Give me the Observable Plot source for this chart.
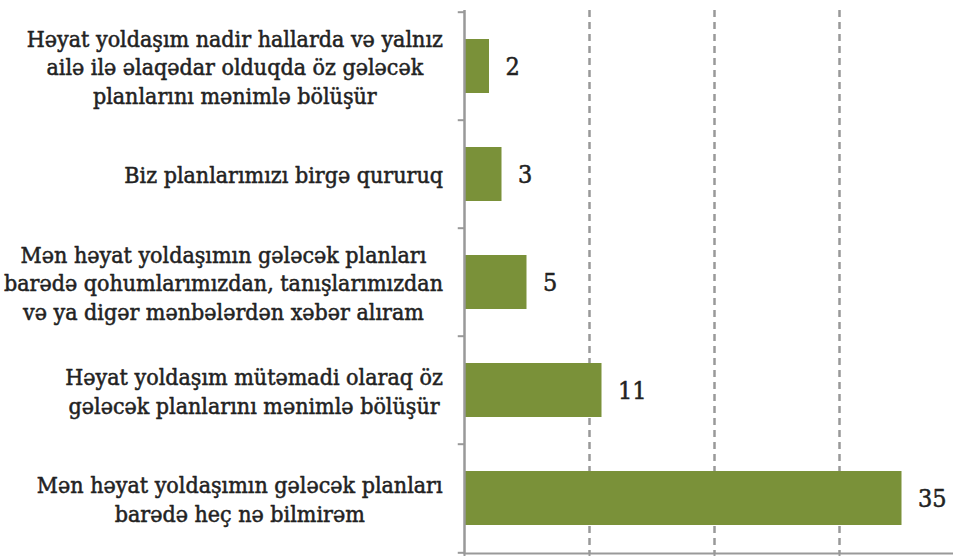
<!DOCTYPE html>
<html>
<head>
<meta charset="utf-8">
<script src="https://cdn.jsdelivr.net/npm/d3@7"></script>
<script src="https://cdn.jsdelivr.net/npm/@observablehq/plot@0.6"></script>
<style>
  html, body { margin: 0; padding: 0; background: #fff; }
  #chart svg { display: block; }
</style>
</head>
<body>
<div id="chart"></div>
<script>
const categories = [
  "Həyat yoldaşım nadir hallarda və yalnız\nailə ilə əlaqədar olduqda öz gələcək\nplanlarını mənimlə bölüşür",
  "Biz planlarımızı birgə qururuq",
  "Mən həyat yoldaşımın gələcək planları\nbarədə qohumlarımızdan, tanışlarımızdan\nvə ya digər mənbələrdən xəbər alıram",
  "Həyat yoldaşım mütəmadi olaraq öz\ngələcək planlarını mənimlə bölüşür",
  "Mən həyat yoldaşımın gələcək planları\nbarədə heç nə bilmirəm"
];
const values = [2, 3, 5, 11, 35];
const gridValues = [10, 20, 30];
const axisTicks = [0, 10, 20, 30];

const data = categories.map((c, i) => ({category: c, value: values[i]}));

const W = 953, H = 556, mL = 464, mT = 10, mB = 3;
const step = (H - mT - mB) / categories.length;
const font = "'DejaVu Serif Condensed', 'DejaVu Serif', serif";

const chart = Plot.plot({
  width: W,
  height: H,
  marginLeft: mL,
  marginRight: 0,
  marginTop: mT,
  marginBottom: mB,
  x: {domain: [0, 39.12], axis: null},
  y: {domain: categories, axis: null, paddingInner: 0.5, paddingOuter: 0.25},
  style: {fontFamily: font, background: "#fff", color: "#222"},
  marks: [
    Plot.gridX(gridValues, {stroke: "#999", strokeOpacity: 1, strokeWidth: 2.5, strokeDasharray: "7,5"}),
    Plot.barX(data, {x: "value", y: "category", fill: "#7A9139"}),
    Plot.ruleX([0], {stroke: "#999", strokeWidth: 2.5}),
    Plot.frame({anchor: "bottom", stroke: "#999", strokeWidth: 2}),
    Plot.axisX(axisTicks, {tickSize: 6, tickFormat: () => "", label: null, stroke: "#999", strokeWidth: 2}),
    Plot.ruleY(categories, {y: d => d, x1: -0.5, x2: 0, dy: -step / 2, stroke: "#999", strokeWidth: 2}),
    Plot.ruleY(categories.slice(-1), {y: d => d, x1: -0.5, x2: 0, dy: step / 2, stroke: "#999", strokeWidth: 2}),
    Plot.text(data, {x: "value", y: "category", text: d => String(d.value), textAnchor: "start", dx: 16, fontSize: 25, fill: "#222", stroke: "#222", strokeWidth: 0.5}),
    Plot.text(data, {x: 0, y: "category", text: "category", textAnchor: "middle", lineHeight: 1.22, fontSize: 23, fill: "#222", stroke: "#222", strokeWidth: 0.5})
  ]
});

document.getElementById("chart").appendChild(chart);

// right-align each centered label block against the axis
const rightEdge = 443;
const textGroups = chart.querySelectorAll('g[aria-label="text"]');
const labelGroup = textGroups[textGroups.length - 1];
const s = chart.getBoundingClientRect();
labelGroup.querySelectorAll("text").forEach(t => {
  const r = t.getBoundingClientRect();
  const cx = r.left - s.left + r.width / 2;
  const shift = (rightEdge - r.width / 2) - cx;
  const tr = t.getAttribute("transform") || "";
  t.setAttribute("transform", `translate(${shift},0) ${tr}`);
});
</script>
</body>
</html>
